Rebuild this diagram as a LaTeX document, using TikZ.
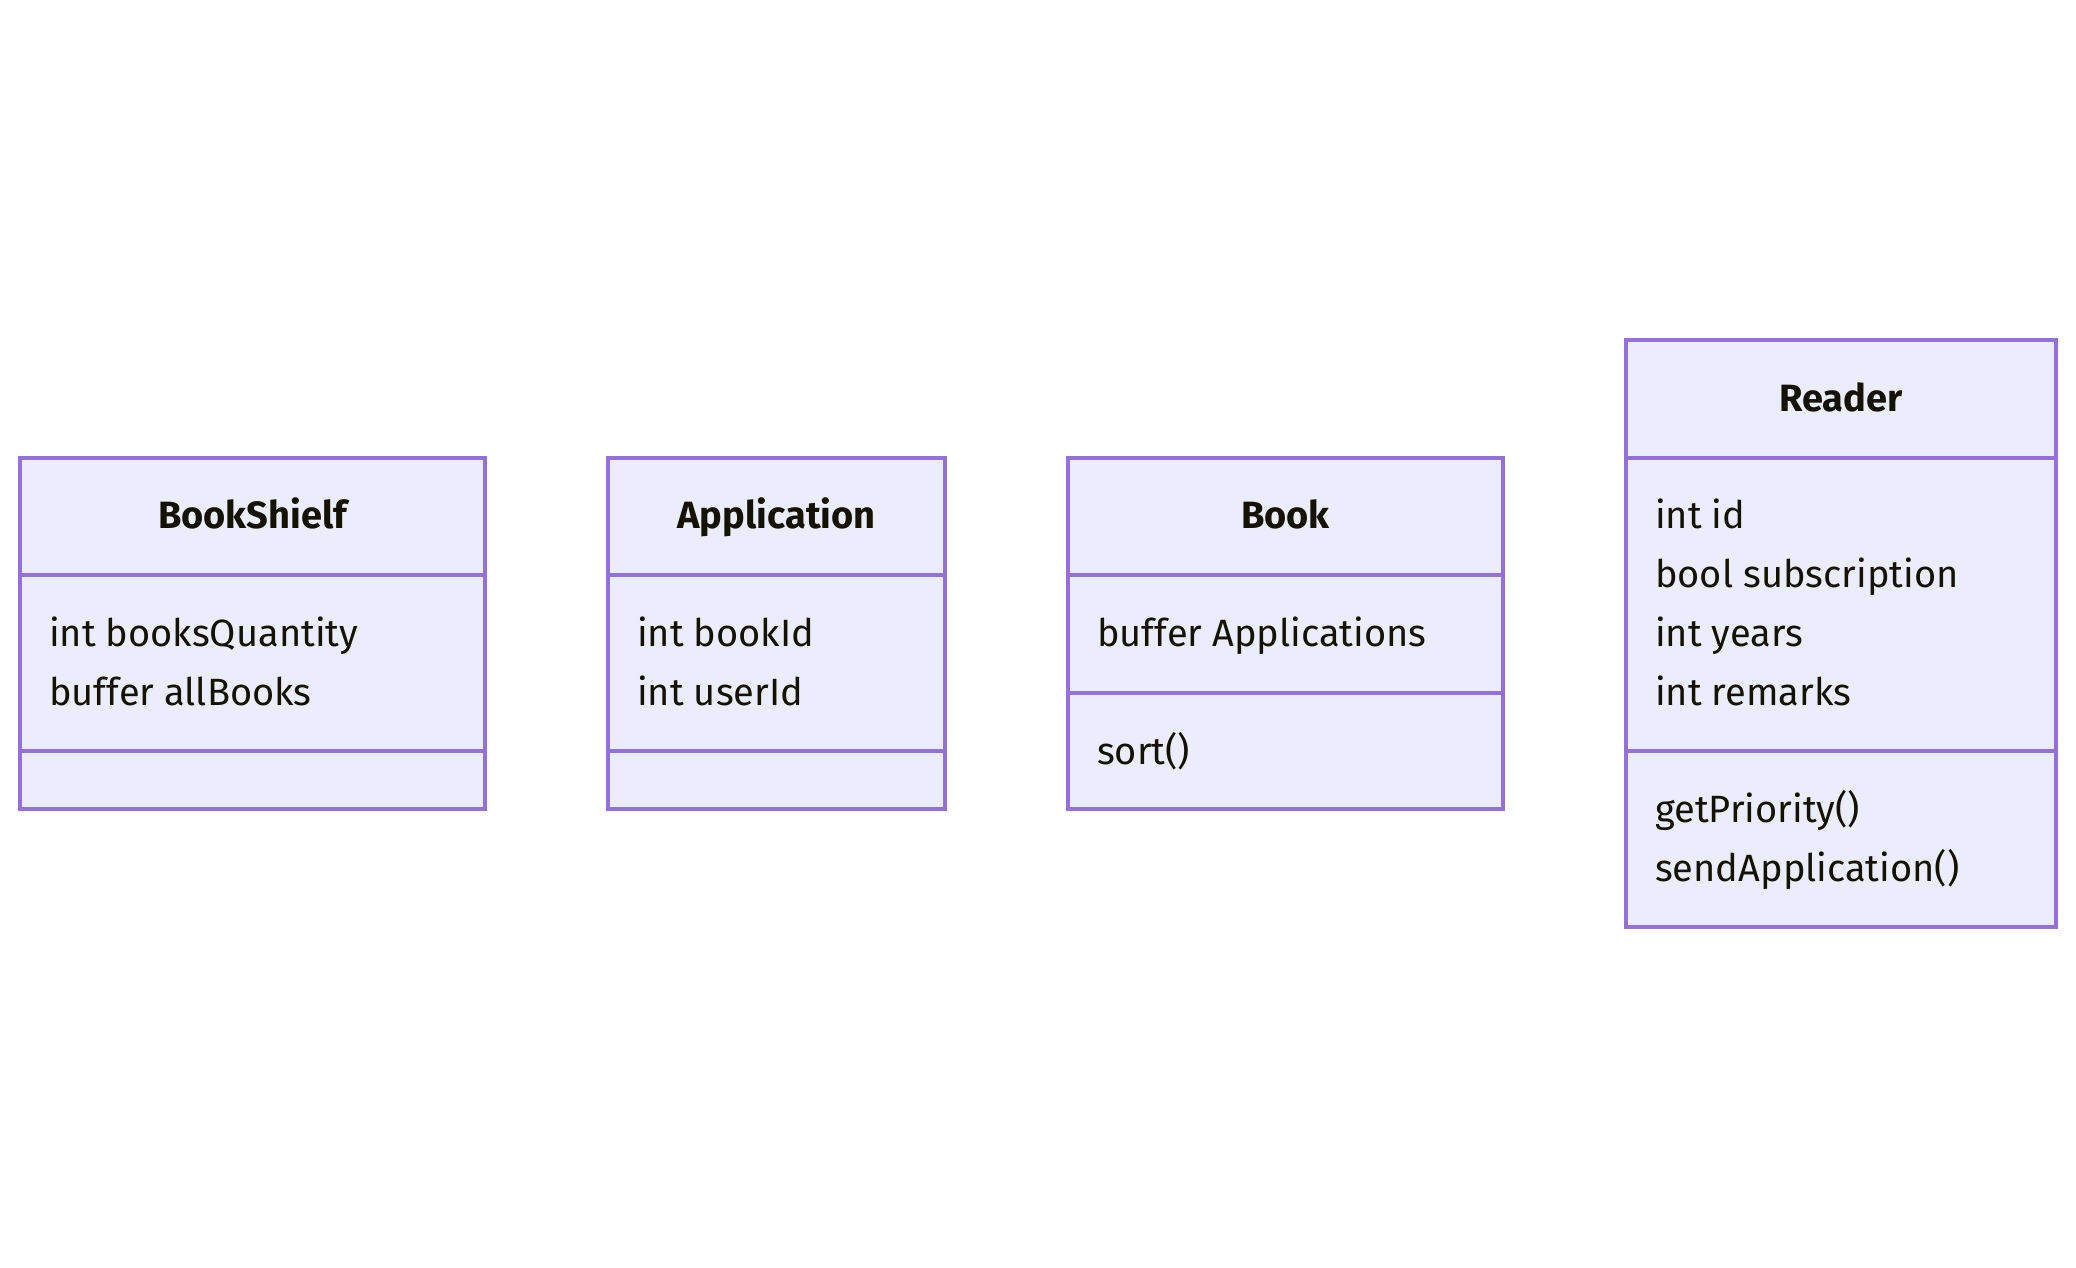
\documentclass[tikz,border=0pt]{standalone}
\usepackage{fontspec}
\setmainfont{Fira Sans}
\definecolor{cfill}{HTML}{ECECFF}
\definecolor{cline}{HTML}{9370DB}
\definecolor{ctext}{HTML}{131300}
\begin{document}
\begin{tikzpicture}[x=1pt,y=-1pt,
  comp/.style={draw=cline, fill=cfill, line width=3.2pt, anchor=north west, inner sep=0pt, outer sep=0pt},
  txt/.style={anchor=base west, inner sep=0pt, text=ctext, font=\fontsize{38}{46}\selectfont},
  ttl/.style={anchor=base, inner sep=0pt, text=ctext, font=\fontsize{38}{46}\selectfont\bfseries}]
\useasboundingbox (0,0) rectangle (2076,1267);

% BookShielf
\node[comp, minimum width=465pt, minimum height=117pt] (bsT) at (20,458) {};
\node[comp, minimum width=465pt, minimum height=176pt] (bsA) at (20,575) {};
\node[comp, minimum width=465pt, minimum height=58pt] (bsM) at (20,751) {};
\node[ttl] (bsN) at (252.5,528) {BookShielf};
\node[txt] (bs1) at (49,646) {int booksQuantity};
\node[txt] (bs2) at (49,705) {buffer allBooks};

% Application
\node[comp, minimum width=337pt, minimum height=117pt] (apT) at (608,458) {};
\node[comp, minimum width=337pt, minimum height=176pt] (apA) at (608,575) {};
\node[comp, minimum width=337pt, minimum height=58pt] (apM) at (608,751) {};
\node[ttl] (apN) at (776.5,528) {Application};
\node[txt] (ap1) at (637,646) {int bookId};
\node[txt] (ap2) at (637,705) {int userId};

% Book
\node[comp, minimum width=435pt, minimum height=117pt] (bkT) at (1068,458) {};
\node[comp, minimum width=435pt, minimum height=118pt] (bkA) at (1068,575) {};
\node[comp, minimum width=435pt, minimum height=116pt] (bkM) at (1068,693) {};
\node[ttl] (bkN) at (1285.5,528) {Book};
\node[txt] (bk1) at (1097,646) {buffer Applications};
\node[txt] (bk2) at (1097,764) {sort()};

% Reader
\node[comp, minimum width=430pt, minimum height=118pt] (rdT) at (1626,340) {};
\node[comp, minimum width=430pt, minimum height=293pt] (rdA) at (1626,458) {};
\node[comp, minimum width=430pt, minimum height=176pt] (rdM) at (1626,751) {};
\node[ttl] (rdN) at (1841,411) {Reader};
\node[txt] (rd1) at (1655,528) {int id};
\node[txt] (rd2) at (1655,587) {bool subscription};
\node[txt] (rd3) at (1655,646) {int years};
\node[txt] (rd4) at (1655,705) {int remarks};
\node[txt] (rd5) at (1655,822) {getPriority()};
\node[txt] (rd6) at (1655,881) {sendApplication()};
\end{tikzpicture}
\end{document}
